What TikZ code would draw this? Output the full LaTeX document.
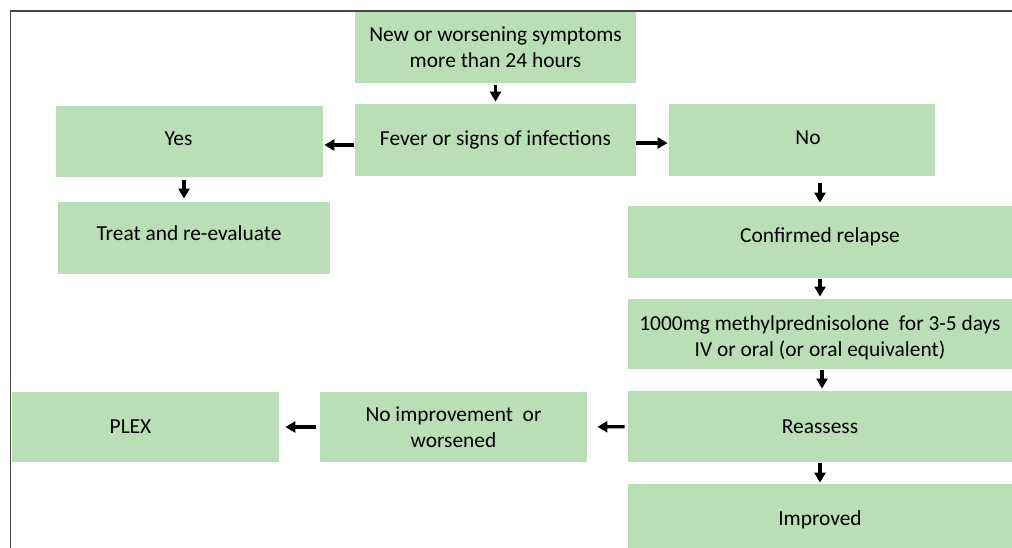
\documentclass[tikz,border=0pt]{standalone}
\usepackage{fontspec}
\setmainfont{Carlito}
\usepackage{tikz}
\usetikzlibrary{arrows.meta}
\definecolor{BoxGreen}{RGB}{186,222,181}
\definecolor{FrameGray}{RGB}{70,70,70}

\begin{document}
\begin{tikzpicture}[x=0.5pt,y=-0.5pt,
    box/.style={fill=BoxGreen,inner sep=0pt,minimum height=35.5pt,align=center,
      font=\fontsize{10.7pt}{13pt}\selectfont},
    txt/.style={align=center,inner sep=0pt,font=\fontsize{10.7pt}{13pt}\selectfont},
    flow/.style={line width=1.6pt,-{Triangle[length=5pt,width=5.5pt]}}]
  \useasboundingbox (0,0) rectangle (1012,547);
  \clip (0,0) rectangle (1012,547);
  \draw[FrameGray,line width=0.75pt] (10.5,560) |- (1020,11);
  \node[box,minimum width=140.5pt] (onset) at (495.5,47.5)
    {New or worsening symptoms\\more than 24 hours};
  \node[box,minimum width=140.5pt,minimum height=36pt] (fever) at (495.5,140)
    {Fever or signs of infections};
  \node[box,minimum width=133.5pt,
    label={[txt,xshift=-5.5pt,yshift=1.5pt]center:Yes}] (yes) at (189.5,141.5) {};
  \node[box,minimum width=133pt,minimum height=36pt,
    label={[txt,xshift=3pt,yshift=1pt]center:No}] (no) at (802,140) {};
  \node[box,minimum width=136pt,minimum height=36pt,
    label={[txt,xshift=-2.5pt,yshift=2.5pt]center:Treat and re-evaluate}] (treat)
    at (194,238) {};
  \node[box,minimum width=192pt,minimum height=36pt,
    label={[txt,yshift=2.5pt]center:Confirmed relapse}] (relapse) at (820,242) {};
  \node[box,minimum width=192pt,minimum height=35pt,
    label={[txt,yshift=-2pt]center:1000mg methylprednisolone\ \ for 3-5 days\\
      IV or oral (or oral equivalent)}] (steroid) at (820,334) {};
  \node[box,minimum width=192pt] (reassess) at (820,426.5) {Reassess};
  \node[box,minimum width=192pt,minimum height=36pt] (improved) at (820,520)
    {Improved};
  \node[box,minimum width=133.5pt,minimum height=35pt] (noimp) at (453.5,427)
    {No improvement\ \ or\\worsened};
  \node[box,minimum width=133.5pt,minimum height=35pt,
    label={[txt,xshift=-7.5pt]center:PLEX}] (plex) at (145.5,427) {};
  \draw[flow,shorten <=1pt,shorten >=1pt] (onset) -- (fever);
  \draw[flow,shorten <=0.5pt,shorten >=0.5pt]
    ([yshift=-2.5pt]fever.west) -- ([yshift=-2.5pt]fever.west -| yes.east);
  \draw[flow,shorten >=0.5pt]
    ([yshift=-1.5pt]fever.east) -- ([yshift=-1.5pt]fever.east -| no.west);
  \draw[flow,shorten <=1.5pt,shorten >=1.5pt]
    ([xshift=-2.75pt]yes.south) -- ([xshift=-2.75pt]yes.south |- treat.north);
  \draw[flow,shorten <=3.5pt,shorten >=1.5pt] (no.south -| relapse.north) -- (relapse);
  \draw[flow,shorten <=0.5pt,shorten >=1pt] (relapse) -- (steroid);
  \draw[flow,shorten <=0.5pt,shorten >=1pt]
    ([xshift=1pt]steroid.south) -- ([xshift=1pt]reassess.north);
  \draw[flow,shorten <=0.5pt,shorten >=0.5pt] (reassess) -- (improved);
  \draw[flow,shorten <=1.5pt,shorten >=5pt] (reassess) -- (noimp);
  \draw[flow,shorten <=2pt,shorten >=3pt] (noimp) -- (plex);
\end{tikzpicture}
\end{document}
